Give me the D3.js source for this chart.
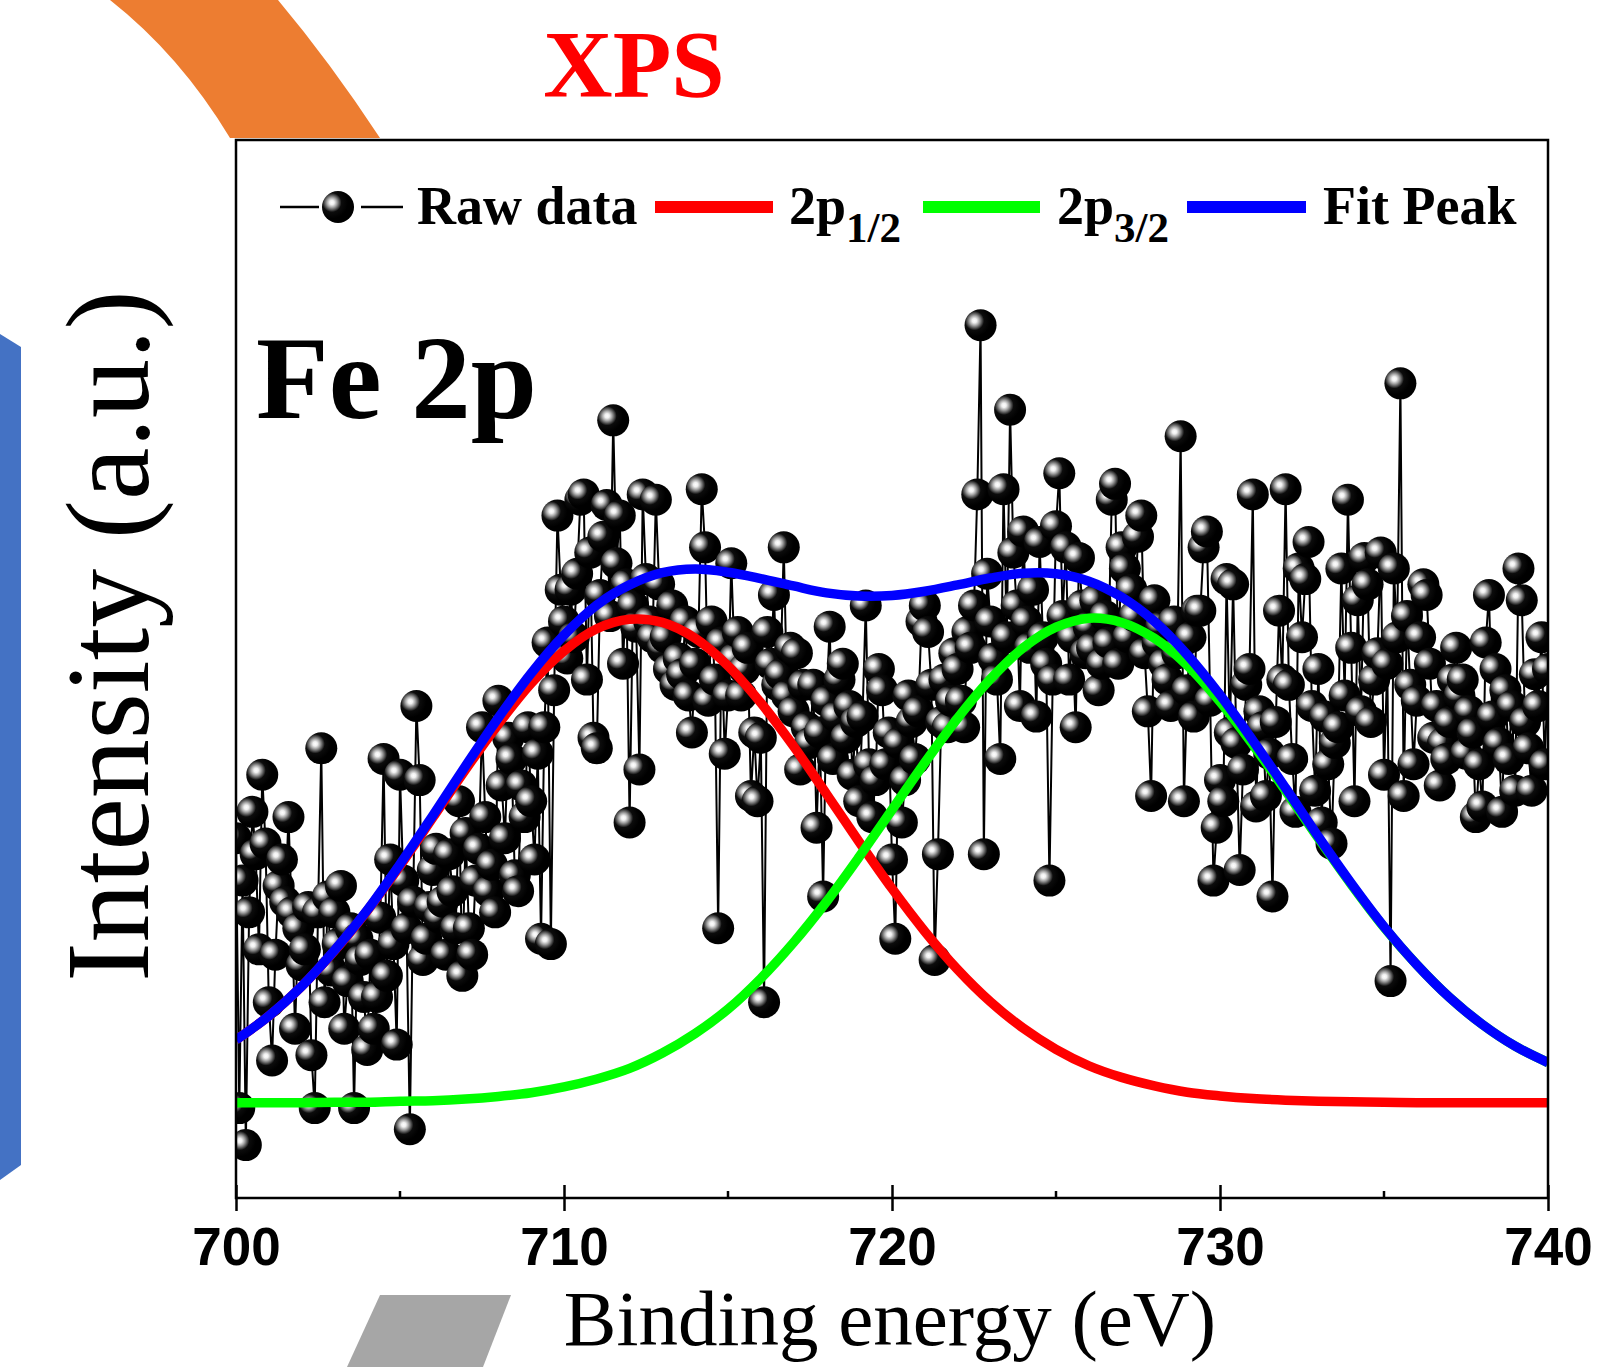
<!DOCTYPE html>
<html>
<head>
<meta charset="utf-8">
<script src="https://cdn.jsdelivr.net/npm/d3@7"></script>
<style>
  body { margin: 0; background: #fff; }
  svg { display: block; }
</style>
</head>
<body>
<div class="vis"></div>
<script>
// x axis
var xTicks = [700, 710, 720, 730, 740];
var xMinorTicks = [705, 715, 725, 735];

// raw spectrum, one point every 0.1 eV from 700 eV (a.u.)
var rawStart = 700, rawStep = 0.1;
var rawIntensity = [
    50, -1, 42, -8, 36, 55, 47, 29, 62, 49,        // 700
    19, 8, 28, 41, 46, 38, 54, 36, 14, 33,         // 701
    26, 29, 37, 9, -1, 36, 67, 19, 39, 25,         // 702
    36, 30, 41, 14, 23, 33, -1, 31, 27, 20,        // 703
    10, 28, 14, 20, 35, 65, 24, 46, 30, 11,        // 704
    62, 42, 33, -5, 38, 75, 61, 27, 31, 37,        // 705
    44, 48, 35, 38, 28, 47, 40, 33, 57, 24,        // 706
    51, 33, 28, 42, 48, 71, 54, 40, 45, 36,        // 707
    76, 60, 50, 69, 65, 43, 40, 60, 54, 71,        // 708
    57, 46, 66, 31, 71, 87, 30, 78, 111, 97,       // 709
    91, 84, 97, 88, 100, 114, 115, 80, 104, 69,    // 710
    67, 96, 107, 113, 92, 129, 102, 111, 83, 98,   // 711
    53, 94, 90, 63, 115, 99, 91, 88, 114, 98,      // 712
    86, 88, 82, 94, 79, 84, 81, 91, 77, 70,        // 713
    83, 89, 116, 105, 76, 91, 80, 33, 87, 66,      // 714
    77, 102, 84, 89, 77, 82, 86, 58, 70, 57,       // 715
    69, 19, 89, 83, 96, 79, 81, 105, 77, 86,       // 716
    74, 85, 63, 79, 71, 68, 79, 52, 70, 39,        // 717
    76, 90, 65, 73, 80, 83, 69, 75, 62, 72,        // 718
    57, 73, 94, 64, 54, 61, 82, 78, 64, 70,        // 719
    46, 31, 68, 53, 61, 77, 72, 65, 74, 91,        // 720
    94, 89, 79, 27, 47, 72, 80, 71, 76, 85,        // 721
    82, 76, 71, 89, 86, 94, 115, 147, 47, 100,     // 722
    91, 84, 80, 65, 116, 88, 131, 104, 94, 75,     // 723
    108, 91, 86, 97, 73, 106, 88, 83, 42, 80,      // 724
    109, 119, 92, 105, 80, 88, 71, 103, 94, 85,    // 725
    90, 86, 95, 78, 83, 92, 87, 114, 117, 83,      // 726
    105, 101, 88, 97, 92, 107, 111, 85, 74, 58,    // 727
    95, 87, 90, 83, 80, 75, 91, 85, 126, 57,       // 728
    78, 88, 73, 93, 93, 105, 108, 76, 42, 52,      // 729
    61, 57, 99, 70, 98, 68, 44, 63, 79, 82,        // 730
    115, 56, 74, 71, 58, 66, 39, 72, 93, 80,       // 731
    116, 79, 65, 55, 101, 88, 99, 106, 75, 59,     // 732
    82, 53, 73, 64, 49, 68, 71, 101, 77, 114,      // 733
    86, 57, 95, 74, 103, 98, 72, 80, 85, 104,      // 734
    62, 83, 23, 101, 88, 136, 58, 92, 79, 64,      // 735
    76, 88, 98, 96, 83, 69, 75, 60, 68, 65,        // 736
    72, 80, 86, 77, 80, 66, 74, 70, 54, 64,        // 737
    56, 87, 96, 73, 82, 68, 55, 78, 65, 75,        // 738
    59, 101, 95, 72, 67, 59, 81, 75, 88, 64,       // 739
    82                                             // 740
];

// fitted components, every 1 eV from 700 to 740
var fitEnergy = d3.range(700, 741, 1);
var fit2p12 = [11.9, 16.4, 22.0, 28.7, 36.3, 44.8, 53.9, 63.0, 71.6, 79.3,
    85.4, 89.6, 91.4, 90.8, 87.8, 82.6, 75.6, 67.4, 58.4, 49.3,
    40.5, 32.4, 25.2, 19.1, 14.1, 10.1, 7.0, 4.8, 3.2, 2.0,
    1.3, 0.8, 0.5, 0.3, 0.2, 0.1, 0, 0, 0, 0, 0];
var fit2p32 = [0, 0, 0, 0.1, 0.1, 0.3, 0.4, 0.7, 1.2, 1.9,
    3.0, 4.5, 6.5, 9.4, 13.1, 17.7, 23.5, 30.3, 38.0, 46.5,
    55.4, 64.3, 72.7, 80.1, 86.0, 89.9, 91.6, 90.8, 87.8, 82.7,
    75.8, 67.7, 59.0, 50.0, 41.3, 33.2, 26.1, 19.9, 14.8, 10.7, 7.6];
var fitPeak = [11.9, 16.4, 22.0, 28.8, 36.4, 45.1, 54.3, 63.7, 72.8, 81.2,
    88.4, 94.1, 97.9, 100.2, 100.9, 100.3, 99.1, 97.7, 96.4, 95.8,
    95.9, 96.7, 97.9, 99.2, 100.1, 100.0, 98.6, 95.6, 91.0, 84.7,
    77.1, 68.5, 59.5, 50.3, 41.5, 33.3, 26.1, 19.9, 14.8, 10.7, 7.6];

document.addEventListener('DOMContentLoaded', function () {
    var W = 1602, H = 1367;
    var margin = { top: 140, right: 54, bottom: 169, left: 236 },
        width = W - margin.left - margin.right,
        height = H - margin.top - margin.bottom;

    var serif = "'Liberation Serif', 'Times New Roman', serif";
    var sans = "'Liberation Sans', Arial, sans-serif";

    var root = d3.select(".vis")
        .append("svg")
        .attr("width", W)
        .attr("height", H)
        .style("background", "#fff");

    var defs = root.append("defs");
    var grad = defs.append("radialGradient")
        .attr("id", "ball")
        .attr("cx", 0.31).attr("cy", 0.36)
        .attr("fx", 0.31).attr("fy", 0.36)
        .attr("r", 0.5);
    [[0, "#ffffff"], [0.14, "#f0f0f0"], [0.3, "#a8a8a8"], [0.45, "#5a5a5a"], [0.6, "#0c0c0c"], [1, "#000"]]
        .forEach(s => grad.append("stop").attr("offset", s[0]).attr("stop-color", s[1]));

    defs.append("clipPath").attr("id", "plotClip")
        .append("rect").attr("width", width).attr("height", height);

    // background decoration shapes
    root.append("path")
        .attr("d", "M110,0 Q180,55 230,138 L380,138 Q330,62 278,0 Z")
        .attr("fill", "#ED7D31");
    root.append("path")
        .attr("d", "M0,334 L21,347 L21,1165 L0,1180 Z")
        .attr("fill", "#4472C4");
    root.append("path")
        .attr("d", "M380,1295 L511,1295 L483,1367 L347,1367 Z")
        .attr("fill", "#A6A6A6");

    root.append("text")
        .attr("x", 634).attr("y", 97)
        .attr("text-anchor", "middle")
        .attr("font-family", serif).attr("font-weight", "bold")
        .attr("font-size", 96).attr("fill", "#ff0000")
        .text("XPS");

    var svg = root.append("g")
        .attr("transform", "translate(" + margin.left + "," + margin.top + ")");

    var x = d3.scaleLinear().domain([700, 740]).range([0, width]);
    var y = d3.scaleLinear().domain([-18, 182]).range([height, 0]);

    var plot = svg.append("g").attr("clip-path", "url(#plotClip)");

    // raw data: thin connecting line + shaded balls
    var rawLine = d3.line()
        .x((d, i) => x(rawStart + i * rawStep))
        .y(d => y(d));
    plot.append("path")
        .datum(rawIntensity)
        .attr("d", rawLine)
        .style("fill", "none")
        .style("stroke", "#000")
        .style("stroke-width", 2);

    plot.selectAll("circle.raw")
        .data(rawIntensity)
        .enter()
        .append("circle")
        .attr("class", "raw")
        .attr("cx", (d, i) => x(rawStart + i * rawStep))
        .attr("cy", d => y(d))
        .attr("r", 16)
        .style("fill", "url(#ball)");

    // fitted curves
    var fits = [
        { values: fit2p12, color: "#ff0000" },
        { values: fit2p32, color: "#00ff00" },
        { values: fitPeak, color: "#0000ff" }
    ];
    var fitLine = d3.line()
        .x((d, i) => x(fitEnergy[i]))
        .y(d => y(d))
        .curve(d3.curveCatmullRom);
    fits.forEach(f => {
        plot.append("path")
            .datum(f.values)
            .attr("d", fitLine)
            .style("fill", "none")
            .style("stroke", f.color)
            .style("stroke-width", 9.5)
            .style("stroke-linejoin", "round");
    });

    // frame
    svg.append("rect")
        .attr("width", width).attr("height", height)
        .style("fill", "none")
        .style("stroke", "#000")
        .style("stroke-width", 2.5);

    // x axis
    var gx = svg.append("g")
        .attr("transform", "translate(0," + height + ")")
        .call(d3.axisBottom(x).tickValues(xTicks).tickSize(12).tickSizeOuter(0).tickPadding(17));
    gx.select(".domain").remove();
    gx.selectAll(".tick line")
        .attr("y1", -13).attr("y2", 13)
        .attr("stroke", "#000").attr("stroke-width", 2.5);
    gx.selectAll(".tick text")
        .attr("font-family", sans)
        .attr("font-weight", "bold")
        .attr("font-size", 53)
        .attr("fill", "#000");

    svg.append("g")
        .selectAll("line")
        .data(xMinorTicks)
        .enter()
        .append("line")
        .attr("x1", d => x(d)).attr("x2", d => x(d))
        .attr("y1", height).attr("y2", height - 7)
        .attr("stroke", "#000").attr("stroke-width", 2.5);

    // axis titles
    root.append("text")
        .attr("x", 890).attr("y", 1345)
        .attr("text-anchor", "middle")
        .attr("font-family", serif)
        .attr("font-size", 79)
        .text("Binding energy (eV)");
    root.append("text")
        .attr("transform", "translate(148,636) rotate(-90)")
        .attr("text-anchor", "middle")
        .attr("font-family", serif)
        .attr("font-size", 118)
        .text("Intensity (a.u.)");

    root.append("text")
        .attr("x", 256).attr("y", 418)
        .attr("font-family", serif).attr("font-weight", "bold")
        .attr("font-size", 119)
        .text("Fe 2p");

    // legend
    var legend = root.append("g")
        .attr("font-family", serif).attr("font-weight", "bold").attr("font-size", 54);
    [[280, 319], [361, 403]].forEach(seg => {
        legend.append("line")
            .attr("x1", seg[0]).attr("x2", seg[1]).attr("y1", 207).attr("y2", 207)
            .attr("stroke", "#000").attr("stroke-width", 2.5);
    });
    legend.append("circle")
        .attr("cx", 338).attr("cy", 207).attr("r", 16)
        .style("fill", "url(#ball)");
    legend.append("text").attr("x", 417).attr("y", 224).text("Raw data");

    var legendLines = [
        { x1: 655, x2: 773, color: "#ff0000", tx: 789, sub: "1/2" },
        { x1: 923, x2: 1040, color: "#00ff00", tx: 1057, sub: "3/2" },
        { x1: 1187, x2: 1306, color: "#0000ff", tx: 1323, sub: null }
    ];
    legendLines.forEach(l => {
        legend.append("line")
            .attr("x1", l.x1).attr("x2", l.x2).attr("y1", 207).attr("y2", 207)
            .attr("stroke", l.color).attr("stroke-width", 12);
        var t = legend.append("text").attr("x", l.tx).attr("y", 224);
        if (l.sub) {
            t.append("tspan").text("2p");
            t.append("tspan").attr("font-size", 43).attr("dy", 18).text(l.sub);
        } else {
            t.text("Fit Peak");
        }
    });
});
</script>
</body>
</html>
